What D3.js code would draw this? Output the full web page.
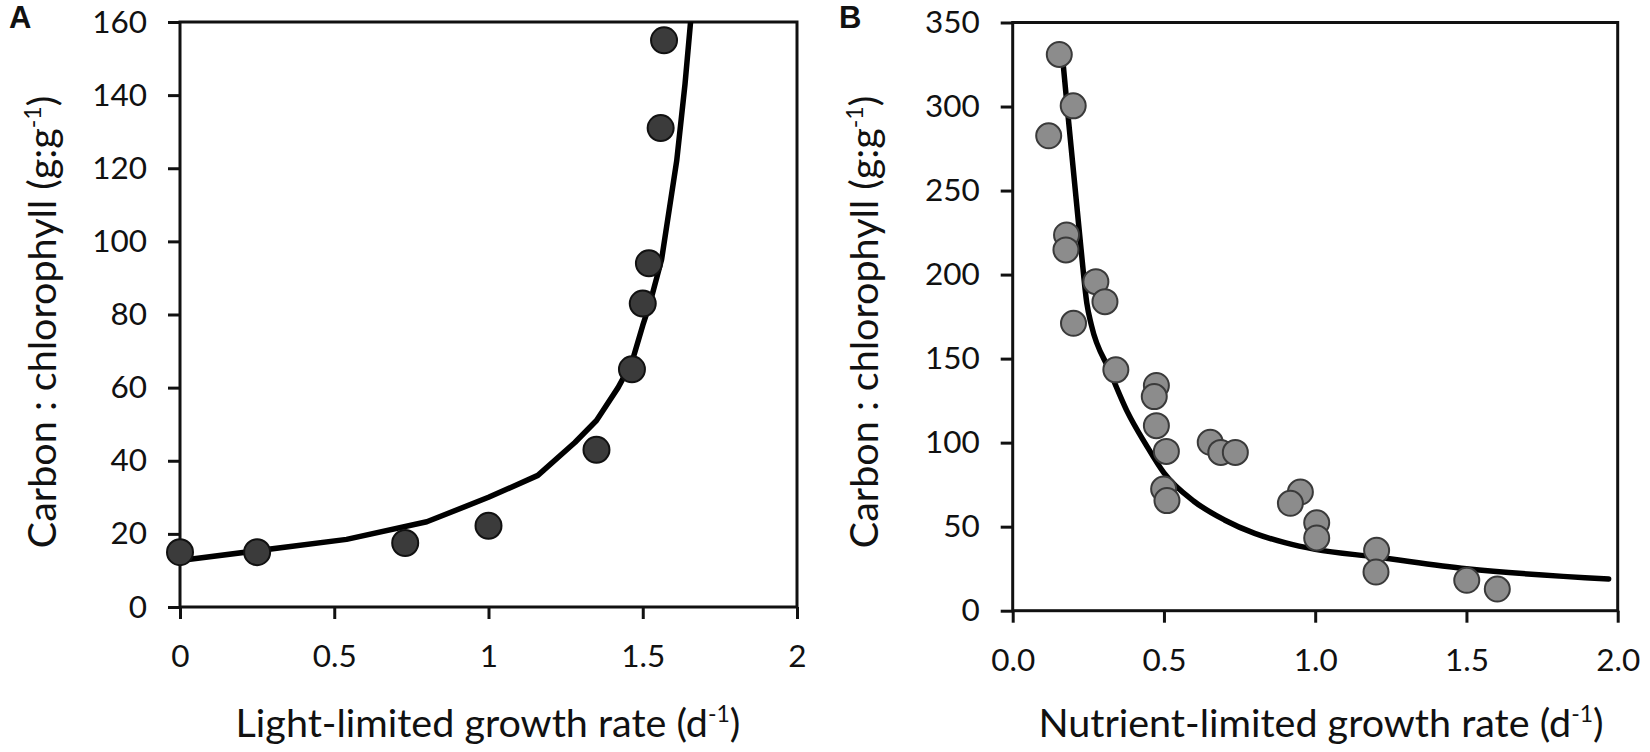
<!DOCTYPE html>
<html>
<head>
<meta charset="utf-8">
<script src="https://cdn.jsdelivr.net/npm/d3@7"></script>
<style>
  html, body { margin: 0; padding: 0; background: #fff; }
  svg { display: block; }
  text { font-family: Lato, "Open Sans", sans-serif; fill: #111; }
</style>
</head>
<body>
<svg id="chart" width="1650" height="752"></svg>
<script>
// ---------- Data ----------
// Panel A: light-limited growth
const lightRate = [0, 0.25, 0.73, 1.0, 1.35, 1.465, 1.50, 1.52, 1.558, 1.569];
const lightCChl = [15, 15, 17.5, 22.2, 43, 65, 83, 94, 131, 155];
const lightFitRate = [0, 0.54, 0.80, 1.0, 1.16, 1.28, 1.35, 1.42, 1.465, 1.50, 1.523, 1.561, 1.61, 1.637, 1.655, 1.665];
const lightFitCChl = [12.7, 18.5, 23.3, 30, 36, 45, 51, 60, 67, 77, 83, 95, 122, 143, 160, 170];

// Panel B: nutrient-limited growth
const nutRate = [0.154, 0.200, 0.119, 0.178, 0.176, 0.275, 0.305, 0.201, 0.341, 0.475, 0.468, 0.475, 0.508, 0.499, 0.510,
                 0.653, 0.688, 0.736, 0.951, 0.918, 1.005, 1.005, 1.203, 1.201, 1.501, 1.602];
const nutCChl = [331, 300.4, 282.6, 223.6, 214.7, 195.8, 183.9, 171, 143.3, 134, 127.4, 110.1, 94.8, 72.4, 65.5,
                 100.2, 94.2, 94.2, 70.6, 63.9, 52.3, 43.3, 35.9, 23, 18.1, 12.9];
const nutFitRate = [0.167, 0.180, 0.226, 0.245, 0.26, 0.32, 0.38, 0.44, 0.5, 0.6, 0.7, 0.8, 0.9, 1.0, 1.2, 1.5, 1.97];
const nutFitCChl = [325, 300, 215, 183, 170, 143, 118, 99, 82, 65, 54, 46, 40.5, 36.5, 32, 25, 18.9];

// Ticks
const aXTicks = [0, 0.5, 1, 1.5, 2];
const aXLabels = ["0", "0.5", "1", "1.5", "2"];
const aYTicks = [0, 20, 40, 60, 80, 100, 120, 140, 160];
const bXTicks = [0, 0.5, 1, 1.5, 2];
const bXLabels = ["0.0", "0.5", "1.0", "1.5", "2.0"];
const bYTicks = [0, 50, 100, 150, 200, 250, 300, 350];

// ---------- Drawing ----------
const svg = d3.select("#chart");

function panel(cfg) {
  const x = d3.scaleLinear().domain(cfg.xDomain).range([cfg.left, cfg.right]);
  const y = d3.scaleLinear().domain(cfg.yDomain).range([cfg.bottom, cfg.top]);
  const g = svg.append("g");
  const tickLen = 12;

  const clipId = "clip-" + cfg.id;
  svg.append("clipPath").attr("id", clipId)
    .append("rect").attr("x", cfg.left).attr("y", cfg.top)
    .attr("width", cfg.right - cfg.left).attr("height", cfg.bottom - cfg.top);

  const xAxis = d3.axisBottom(x).tickValues(cfg.xTicks)
    .tickFormat((d, i) => cfg.xLabels[i]).tickSize(tickLen).tickPadding(26).tickSizeOuter(0);
  const yAxis = d3.axisLeft(y).tickValues(cfg.yTicks)
    .tickFormat(d3.format("d")).tickSize(tickLen).tickPadding(21).tickSizeOuter(0);

  const gx = g.append("g").attr("transform", `translate(0,${cfg.bottom})`).call(xAxis);
  const gy = g.append("g").attr("transform", `translate(${cfg.left},0)`).call(yAxis);
  [gx, gy].forEach(a => {
    a.select(".domain").remove();
    a.selectAll(".tick line").attr("stroke", "#111").attr("stroke-width", 3);
    a.selectAll(".tick text").style("font-family", "Lato, sans-serif").style("font-size", "31.5px").attr("fill", "#111");
  });

  g.append("rect").attr("x", cfg.left).attr("y", cfg.top)
    .attr("width", cfg.right - cfg.left).attr("height", cfg.bottom - cfg.top)
    .attr("fill", "none").attr("stroke", "#111").attr("stroke-width", 3);

  const line = d3.line().x((d, i) => x(cfg.fitX[i])).y((d, i) => y(cfg.fitY[i])).curve(cfg.curve);
  g.append("path").datum(cfg.fitX).attr("d", line)
    .attr("fill", "none").attr("stroke", "#000").attr("stroke-width", 5.5)
    .attr("stroke-linejoin", "round").attr("stroke-linecap", "round")
    .attr("clip-path", `url(#${clipId})`);

  g.append("g").selectAll("circle").data(cfg.px).join("circle")
    .attr("cx", (d, i) => x(cfg.px[i])).attr("cy", (d, i) => y(cfg.py[i]))
    .attr("r", cfg.r).attr("fill", cfg.fill).attr("stroke", cfg.stroke).attr("stroke-width", 2);

  const xt = g.append("text").attr("x", cfg.xTitleX).attr("y", 737)
    .attr("text-anchor", "middle").style("font-size", "39.5px");
  xt.append("tspan").text(cfg.xTitle + " (d");
  xt.append("tspan").text("-1").style("font-size", "23px").attr("dy", "-15");
  xt.append("tspan").text(")").attr("dy", "15");

  const yt = g.append("text").attr("transform", `translate(${cfg.yTitleX},322) rotate(-90)`)
    .attr("text-anchor", "middle").style("font-size", "39.5px");
  yt.append("tspan").text("Carbon : chlorophyll (g:g");
  yt.append("tspan").text("-1").style("font-size", "23px").attr("dy", "-15");
  yt.append("tspan").text(")").attr("dy", "15");

  g.append("text").attr("x", cfg.letterX).attr("y", 28).text(cfg.letter)
    .style("font-family", "'Liberation Sans', Arial, sans-serif").style("font-weight", "bold").style("font-size", "31px");
}

panel({
  id: "a", letter: "A", letterX: 9,
  left: 180, right: 797, top: 22, bottom: 607,
  xDomain: [0, 2], yDomain: [0, 160],
  xTicks: aXTicks, xLabels: aXLabels, yTicks: aYTicks,
  px: lightRate, py: lightCChl, fitX: lightFitRate, fitY: lightFitCChl,
  curve: d3.curveLinear, r: 13, fill: "#3b3b3b", stroke: "#111",
  xTitle: "Light-limited growth rate", xTitleX: 488, yTitleX: 56
});

panel({
  id: "b", letter: "B", letterX: 839,
  left: 1012.7, right: 1617.7, top: 22.5, bottom: 610.7,
  xDomain: [0, 2], yDomain: [0, 350],
  xTicks: bXTicks, xLabels: bXLabels, yTicks: bYTicks,
  px: nutRate, py: nutCChl, fitX: nutFitRate, fitY: nutFitCChl,
  curve: d3.curveMonotoneX, r: 12.5, fill: "#8c8c8c", stroke: "#3a3a3a",
  xTitle: "Nutrient-limited growth rate", xTitleX: 1321, yTitleX: 878
});
</script>
</body>
</html>
